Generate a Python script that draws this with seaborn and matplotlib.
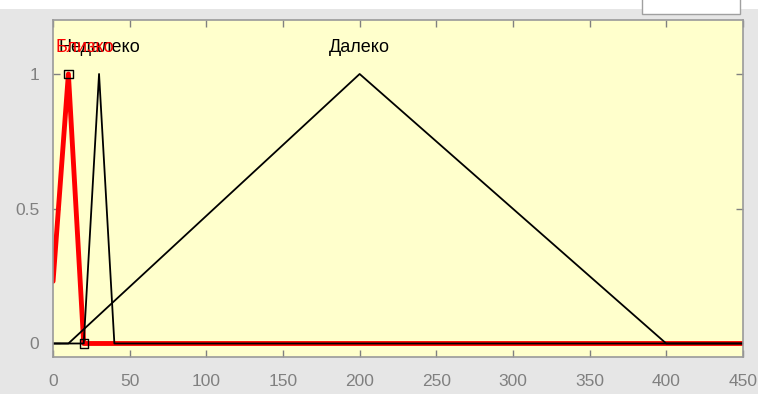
import matplotlib
matplotlib.use("Agg")
import matplotlib.pyplot as plt
import seaborn as sns
import pandas as pd
import numpy as np

# membership functions (trimf params) of the input variable
mf_names = ["Далеко", "Недалеко", "Близко"]
mf_params = [[10, 200, 400], [20, 30, 40], [-3, 10, 20]]
mf_selected = [False, False, True]
label_x = [200, 30, 21]
x_range = [0, 450]

x_ticks = [0, 50, 100, 150, 200, 250, 300, 350, 400, 450]
y_ticks = [0, 0.5, 1]
y_ticklabels = ["0", "0.5", "1"]


def trimf_points(p, lo, hi):
    a, b, c = p
    xs = [lo, a, b, c, hi]
    ys = [0.0, 0.0, 1.0, 0.0, 0.0]
    if a < lo:
        xs = [lo, b, c, hi]
        ys = [(lo - a) / (b - a), 1.0, 0.0, 0.0]
    return pd.DataFrame({"x": xs, "y": ys})


sns.set_theme(style="white")
plt.rcParams["font.family"] = ["Liberation Sans", "DejaVu Sans"]

fig = plt.figure(figsize=(7.58, 3.94), dpi=100, facecolor="#e6e6e6")
ax = fig.add_axes([0.070, 0.094, 0.910, 0.855])
ax.set_facecolor("#ffffcc")

# top strip of the window
fig.patches.append(plt.Rectangle((0, 1 - 9 / 394), 1, 9 / 394, transform=fig.transFigure,
                                 facecolor="white", edgecolor="none", zorder=0))
fig.patches.append(plt.Rectangle((642 / 758, 1 - 14 / 394), 98 / 758, 16 / 394,
                                 transform=fig.transFigure, facecolor="white",
                                 edgecolor="#a0a0a0", linewidth=1, zorder=1))

for name, p, sel, lx in zip(mf_names, mf_params, mf_selected, label_x):
    df = trimf_points(p, x_range[0], x_range[1])
    color = "red" if sel else "black"
    lw = 3.5 if sel else 1.3
    sns.lineplot(data=df, x="x", y="y", sort=False, color=color, linewidth=lw,
                 ax=ax, zorder=1.5 if sel else 2)
    if sel:
        hx = [b for b in p[1:]]
        hy = [1.0, 0.0]
        ax.scatter(hx, hy, marker="s", s=36, facecolor="none", edgecolor="black",
                   linewidth=1, zorder=4)
    ax.text(lx, 1.1, name, ha="center", va="center", fontsize=13,
            color=color, zorder=5)

ax.set_xlim(x_range)
ax.set_ylim(-0.05, 1.2)
ax.set_xticks(x_ticks)
ax.set_yticks(y_ticks)
ax.set_yticklabels(y_ticklabels)
ax.set_xlabel("")
ax.set_ylabel("")
ax.tick_params(direction="in", length=5, width=1, colors="#808080",
               labelcolor="#808080", labelsize=12.5, top=True, right=True,
               bottom=True, left=True, pad=12)
ax.tick_params(axis="y", pad=10)
for s in ax.spines.values():
    s.set_color("#9a9a9a")
    s.set_linewidth(1.2)

fig.savefig("out.png", dpi=100, facecolor=fig.get_facecolor())
